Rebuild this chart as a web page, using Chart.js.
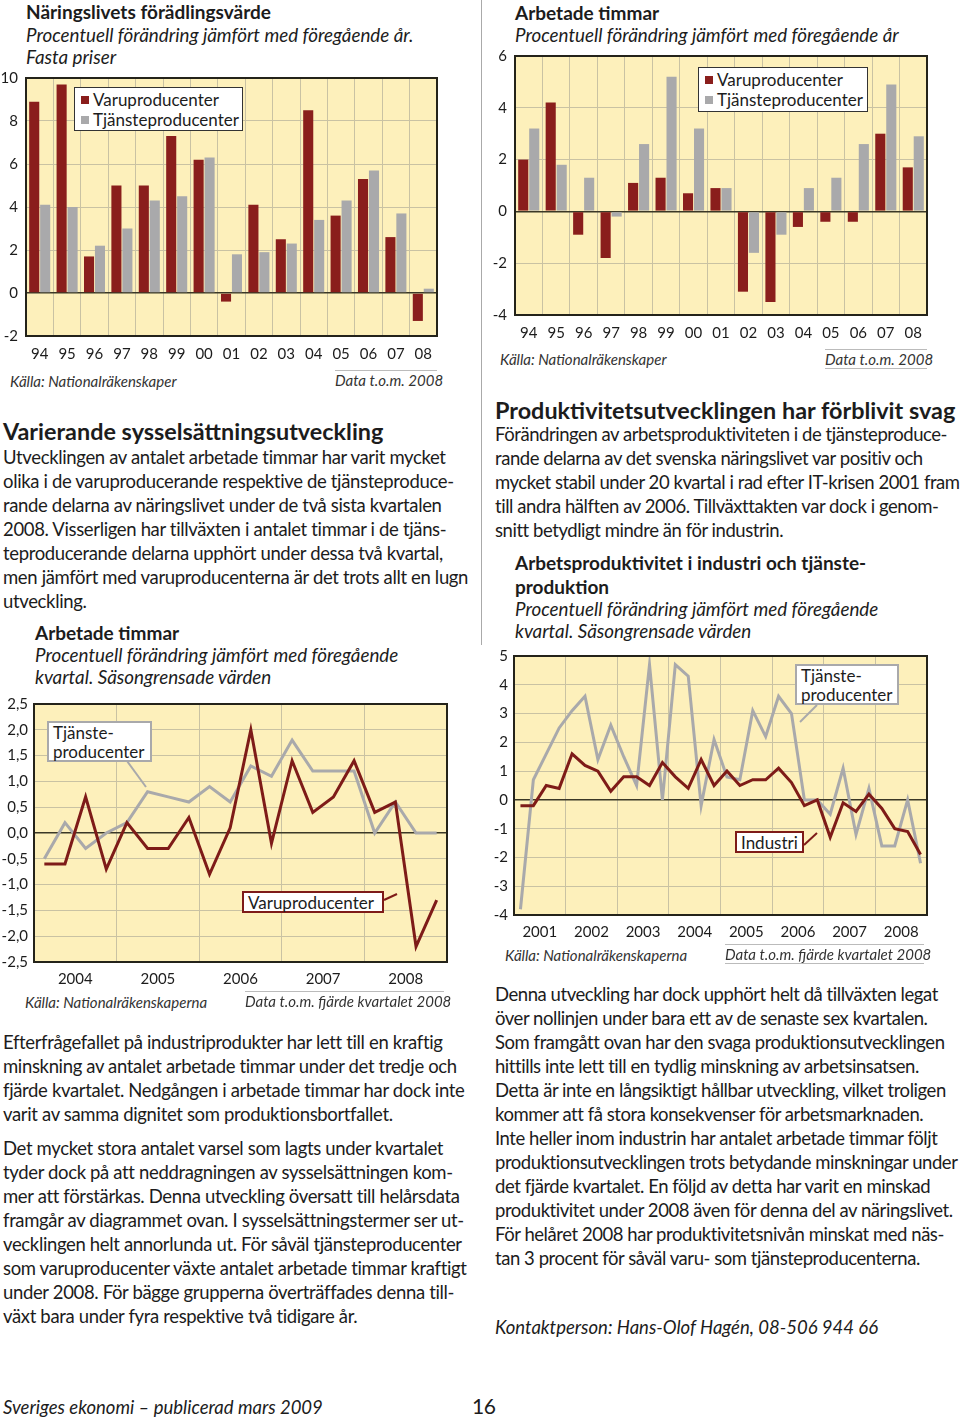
<!DOCTYPE html>
<html lang="sv">
<head>
<meta charset="utf-8">
<title>Sveriges ekonomi – publicerad mars 2009, sida 16</title>
<script src="https://cdn.jsdelivr.net/npm/chart.js@4.4.1/dist/chart.umd.min.js"></script>
<style>
  html, body { margin: 0; padding: 0; background: #fff; }
  body { width: 960px; height: 1420px; position: relative; overflow: hidden;
         font-family: Lato, "Open Sans", sans-serif; color: #1c1c1c; }
  .abs { position: absolute; white-space: nowrap; }
  .body { font-size: 18.5px; line-height: 24px; letter-spacing: -0.35px; }
  .right { letter-spacing: -0.45px; }
  .h2 { font-weight: bold; font-size: 23.4px; line-height: 26px; }
  .ctitle { font-weight: bold; font-size: 19px; line-height: 24px; }
  .csub { font-style: italic; font-size: 18.8px; line-height: 22px; }
  .src { font-style: italic; font-size: 15px; line-height: 18px; color: #333; }
  .rule { border-top: 1px solid #bbb; }
  canvas { position: absolute; }
  .legend { position: absolute; background: #fff; border: 1px solid #333; box-sizing: border-box;
            font-size: 17px; line-height: 20px; padding: 2px 0 0 6px; white-space: nowrap; }
  .sw { display: inline-block; width: 8px; height: 8px; margin-right: 4px; vertical-align: 2px; }
  .note { position: absolute; background: #fff; border: 2px solid; box-sizing: border-box;
          font-size: 17px; line-height: 19px; padding: 0 4px; white-space: nowrap; }
  .vline { position: absolute; left: 481px; top: 0; width: 1px; height: 645px; background: #aaa; }
</style>
</head>
<body>

<div class="vline"></div>

<!-- top left chart texts -->
<div class="abs ctitle" style="left:26px; top:0px;">Näringslivets förädlingsvärde</div>
<div class="abs csub" style="left:26px; top:24px;">Procentuell förändring jämfört med föregående år.<br>Fasta priser</div>
<canvas id="addedValueChart"></canvas>
<div class="legend" style="left:74px; top:87px; width:169px; height:44px;">
  <span class="sw" id="sw1a"></span>Varuproducenter<br><span class="sw" id="sw1b"></span>Tjänsteproducenter
</div>
<div class="abs src" style="left:10px; top:372px;">Källa: Nationalräkenskaper</div>
<div class="abs src rule" style="left:335px; top:370px; width:102px; text-align:right;">Data t.o.m. 2008</div>

<!-- top right chart texts -->
<div class="abs ctitle" style="left:515px; top:1px;">Arbetade timmar</div>
<div class="abs csub" style="left:515px; top:24px;">Procentuell förändring jämfört med föregående år</div>
<canvas id="hoursChart"></canvas>
<div class="legend" style="left:698px; top:67px; width:170px; height:45px;">
  <span class="sw" id="sw2a"></span>Varuproducenter<br><span class="sw" id="sw2b"></span>Tjänsteproducenter
</div>
<div class="abs src" style="left:500px; top:350px;">Källa: Nationalräkenskaper</div>
<div class="abs src rule" style="left:825px; top:349px; width:102px; text-align:right; border-bottom:1px solid #bbb;">Data t.o.m. 2008</div>

<!-- left column text -->
<div class="abs h2" style="left:3px; top:418px;">Varierande sysselsättningsutveckling</div>
<div class="abs body" style="left:3px; top:445px;">Utvecklingen av antalet arbetade timmar har varit mycket<br>olika i de varuproducerande respektive de tjänsteproduce-<br>rande delarna av näringslivet under de två sista kvartalen<br>2008. Visserligen har tillväxten i antalet timmar i de tjäns-<br>teproducerande delarna upphört under dessa två kvartal,<br>men jämfört med varuproducenterna är det trots allt en lugn<br>utveckling.</div>

<div class="abs ctitle" style="left:35px; top:621px;">Arbetade timmar</div>
<div class="abs csub" style="left:35px; top:644px;">Procentuell förändring jämfört med föregående<br>kvartal. Säsongrensade värden</div>
<canvas id="quarterHoursChart"></canvas>
<div class="abs src" style="left:25px; top:993px;">Källa: Nationalräkenskaperna</div>
<div class="abs src rule" style="left:245px; top:991px; width:199px; text-align:right;">Data t.o.m. fjärde kvartalet 2008</div>

<div class="abs body" style="left:3px; top:1030px;">Efterfrågefallet på industriprodukter har lett till en kraftig<br>minskning av antalet arbetade timmar under det tredje och<br>fjärde kvartalet. Nedgången i arbetade timmar har dock inte<br>varit av samma dignitet som produktionsbortfallet.</div>
<div class="abs body" style="left:3px; top:1136px;">Det mycket stora antalet varsel som lagts under kvartalet<br>tyder dock på att neddragningen av sysselsättningen kom-<br>mer att förstärkas. Denna utveckling översatt till helårsdata<br>framgår av diagrammet ovan. I sysselsättningstermer ser ut-<br>vecklingen helt annorlunda ut. För såväl tjänsteproducenter<br>som varuproducenter växte antalet arbetade timmar kraftigt<br>under 2008. För bägge grupperna överträffades denna till-<br>växt bara under fyra respektive två tidigare år.</div>

<!-- right column text -->
<div class="abs h2" style="left:495px; top:397px;">Produktivitetsutvecklingen har förblivit svag</div>
<div class="abs body right" style="left:495px; top:422px;">Förändringen av arbetsproduktiviteten i de tjänsteproduce-<br>rande delarna av det svenska näringslivet var positiv och<br>mycket stabil under 20 kvartal i rad efter IT-krisen 2001 fram<br>till andra hälften av 2006. Tillväxttakten var dock i genom-<br>snitt betydligt mindre än för industrin.</div>

<div class="abs ctitle" style="left:515px; top:551px;">Arbetsproduktivitet i industri och tjänste-<br>produktion</div>
<div class="abs csub" style="left:515px; top:598px;">Procentuell förändring jämfört med föregående<br>kvartal. Säsongrensade värden</div>
<canvas id="productivityChart"></canvas>
<div class="abs src" style="left:505px; top:946px;">Källa: Nationalräkenskaperna</div>
<div class="abs src rule" style="left:725px; top:944px; width:199px; text-align:right; border-bottom:1px solid #bbb;">Data t.o.m. fjärde kvartalet 2008</div>

<div class="abs body right" style="left:495px; top:982px;">Denna utveckling har dock upphört helt då tillväxten legat<br>över nollinjen under bara ett av de senaste sex kvartalen.<br>Som framgått ovan har den svaga produktionsutvecklingen<br>hittills inte lett till en tydlig minskning av arbetsinsatsen.<br>Detta är inte en långsiktigt hållbar utveckling, vilket troligen<br>kommer att få stora konsekvenser för arbetsmarknaden.<br>Inte heller inom industrin har antalet arbetade timmar följt<br>produktionsutvecklingen trots betydande minskningar under<br>det fjärde kvartalet. En följd av detta har varit en minskad<br>produktivitet under 2008 även för denna del av näringslivet.<br>För helåret 2008 har produktivitetsnivån minskat med näs-<br>tan 3 procent för såväl varu- som tjänsteproducenterna.</div>
<div class="abs body" style="left:495px; top:1315px; font-style:italic; letter-spacing:0;">Kontaktperson: Hans-Olof Hagén, 08-506 944 66</div>

<!-- footer -->
<div class="abs body" style="left:3px; top:1395px; font-style:italic; letter-spacing:0;">Sveriges ekonomi – publicerad mars 2009</div>
<div class="abs body" style="left:472px; top:1394px; font-size:21px;">16</div>

<!-- line chart annotations -->
<div class="note" id="n3s" style="left:47px; top:721px; width:105px; height:41px;">Tjänste-<br>producenter</div>
<div class="note" id="n3g" style="left:242px; top:891px; width:142px; height:22px;">Varuproducenter</div>
<div class="note" id="n4s" style="left:795px; top:664px; width:104px; height:41px;">Tjänste-<br>producenter</div>
<div class="note" id="n4g" style="left:735px; top:831px; width:69px; height:22px;">Industri</div>
<svg width="960" height="1420" style="position:absolute; left:0; top:0; pointer-events:none;">
  <line id="p3s" x1="127" y1="761" x2="146" y2="787" stroke-width="2"/>
  <line id="p3g" x1="384" y1="900" x2="397" y2="894" stroke-width="2"/>
  <line id="p4s" x1="817" y1="705" x2="800" y2="722" stroke-width="2"/>
  <line id="p4g" x1="804" y1="845" x2="817" y2="833" stroke-width="2"/>
</svg>

<script>
// ---- data ----
const barYears = ['94', '95', '96', '97', '98', '99', '00', '01', '02', '03', '04', '05', '06', '07', '08'];

// Näringslivets förädlingsvärde, % per år
const addedValueGoods    = [8.9, 9.7, 1.7, 5.0, 5.0, 7.3, 6.2, -0.4, 4.1, 2.5, 8.5, 3.6, 5.3, 2.6, -1.3];
const addedValueServices = [4.1, 4.0, 2.2, 3.0, 4.3, 4.5, 6.3, 1.8, 1.9, 2.3, 3.4, 4.3, 5.7, 3.7, 0.2];

// Arbetade timmar, % per år
const hoursGoods    = [2.0, 4.2, -0.9, -1.8, 1.1, 1.3, 0.7, 0.9, -3.1, -3.5, -0.6, -0.4, -0.4, 3.0, 1.7];
const hoursServices = [3.2, 1.8, 1.3, -0.2, 2.6, 5.2, 3.2, 0.9, -1.6, -0.9, 0.9, 1.3, 2.6, 4.9, 2.9];

// Arbetade timmar per kvartal 2004-2008
const quarterYears = ['2004', '2005', '2006', '2007', '2008'];
const quarterHoursGoods    = [-0.6, -0.6, 0.7, -0.7, 0.2, -0.3, -0.3, 0.3, -0.8, 0.1, 2.0, -0.2,
                              1.4, 0.4, 0.7, 1.4, 0.4, 0.6, -2.2, -1.3];
const quarterHoursServices = [-0.5, 0.2, -0.3, 0.0, 0.2, 0.8, 0.7, 0.6, 0.9, 0.6, 1.3, 1.1,
                              1.8, 1.2, 1.2, 1.2, 0.0, 0.6, 0.0, 0.0];

// Arbetsproduktivitet per kvartal 2001-2008
const productivityYears = ['2001', '2002', '2003', '2004', '2005', '2006', '2007', '2008'];
const productivityIndustry = [-0.2, -0.2, 0.5, 0.4, 1.6, 1.2, 1.0, 0.3, 0.8, 0.8, 0.5, 1.3,
                              0.8, 0.4, 1.4, 0.5, 1.0, 0.5, 0.7, 0.7, 1.1, 0.6, -0.2, 0.0,
                              -1.3, -0.1, -0.4, 0.2, -0.3, -1.0, -1.1, -1.9];
const productivityServices = [-3.8, 0.7, 1.6, 2.5, 3.1, 3.6, 1.4, 2.6, 1.5, 0.5, 4.7, 0.0,
                              4.7, 4.3, -0.2, 2.1, 0.8, 0.7, 3.1, 2.2, 3.6, 3.0, 0.0, 0.0,
                              -0.5, 1.1, -1.2, 0.4, -1.6, -1.6, 0.0, -2.2];

// ---- styles ----
const RED = '#8a1e1c';
const LINE_RED = '#7e1b18';
const GREY = '#a9a9ab';
const YELLOW = '#fdf0bb';
const GRID = '#c9c2a3';
const ZERO = '#3b3826';
const FRAME = '#24231a';
const TEXT = '#1c1c1c';

Chart.defaults.font.family = 'Lato, "Open Sans", sans-serif';
Chart.defaults.font.size = 15;
Chart.defaults.color = TEXT;

['sw1a', 'sw2a'].forEach(id => document.getElementById(id).style.background = RED);
['sw1b', 'sw2b'].forEach(id => document.getElementById(id).style.background = GREY);
document.getElementById('n3s').style.borderColor = GREY;
document.getElementById('n4s').style.borderColor = GREY;
document.getElementById('n3g').style.borderColor = LINE_RED;
document.getElementById('n4g').style.borderColor = LINE_RED;
['p3s', 'p4s'].forEach(id => document.getElementById(id).setAttribute('stroke', GREY));
['p3g', 'p4g'].forEach(id => document.getElementById(id).setAttribute('stroke', LINE_RED));

// yellow plot background and the dark frame round it
const framePlugin = {
    id: 'frame',
    beforeDraw(chart) {
        const { ctx, chartArea: a } = chart;
        ctx.save();
        ctx.fillStyle = YELLOW;
        ctx.fillRect(a.left, a.top, a.width, a.height);
        ctx.restore();
    },
    afterDraw(chart) {
        const { ctx, chartArea: a } = chart;
        ctx.save();
        ctx.strokeStyle = FRAME;
        ctx.lineWidth = 2;
        ctx.strokeRect(a.left, a.top, a.width, a.height);
        ctx.restore();
    }
};

const zeroColor = ctx => (ctx.tick && ctx.tick.value === 0 ? ZERO : GRID);
const zeroWidth = ctx => (ctx.tick && ctx.tick.value === 0 ? 1.6 : 1);

// build the chart, then resize / move the canvas so the plot area lands on the page rectangle
function makeChart(id, plot, yWidth, xHeight, config) {
    const c = document.getElementById(id);
    const w = plot.r - plot.l + yWidth + 12;
    const h = plot.b - plot.t + 12 + xHeight;
    c.width = w; c.height = h;
    c.style.width = w + 'px'; c.style.height = h + 'px';
    config.options.responsive = false;
    config.options.maintainAspectRatio = false;
    config.options.animation = false;
    config.options.layout = { padding: { top: 0, right: 12, left: 0, bottom: 0 } };
    config.options.plugins = { legend: { display: false }, tooltip: { enabled: false } };
    config.options.scales.x.afterFit = s => { s.height = xHeight; };
    config.options.scales.y.afterFit = s => { s.width = yWidth; };
    config.plugins = [framePlugin];
    const chart = new Chart(c, config);

    const a = chart.chartArea;
    const w2 = w + (plot.r - plot.l) - (a.right - a.left);
    const h2 = h + (plot.b - plot.t) - (a.bottom - a.top);
    chart.resize(w2, h2);
    const b = chart.chartArea;
    c.style.left = (plot.l - b.left) + 'px';
    c.style.top = (plot.t - b.top) + 'px';
    return chart;
}

function barConfig(goods, services, min, max, step) {
    return {
        type: 'bar',
        data: {
            labels: barYears,
            datasets: [
                { label: 'Varuproducenter', data: goods, backgroundColor: RED,
                  categoryPercentage: 0.8, barPercentage: 0.92 },
                { label: 'Tjänsteproducenter', data: services, backgroundColor: GREY,
                  categoryPercentage: 0.8, barPercentage: 0.92 }
            ]
        },
        options: {
            scales: {
                x: {
                    grid: { color: GRID, drawTicks: false, offset: true },
                    border: { display: false },
                    ticks: { padding: 9, maxRotation: 0, autoSkip: false }
                },
                y: {
                    min: min, max: max,
                    grid: { color: zeroColor, lineWidth: zeroWidth, drawTicks: false },
                    border: { display: false },
                    ticks: { stepSize: step, padding: 8 }
                }
            }
        }
    };
}

function lineConfig(years, goods, services, min, max, step, fmt) {
    const n = goods.length;
    const pts = arr => arr.map((v, i) => ({ x: i + 0.5, y: v }));
    return {
        type: 'line',
        data: {
            datasets: [
                { label: 'Varuproducenter', data: pts(goods), borderColor: LINE_RED,
                  borderWidth: 3, pointRadius: 0, tension: 0 },
                { label: 'Tjänsteproducenter', data: pts(services), borderColor: GREY,
                  borderWidth: 3, pointRadius: 0, tension: 0 }
            ]
        },
        options: {
            scales: {
                x: {
                    type: 'linear', min: 0, max: n,
                    grid: { color: ctx => (ctx.tick.value % 4 === 0 ? GRID : 'rgba(0,0,0,0)'), drawTicks: false },
                    border: { display: false },
                    ticks: {
                        stepSize: 2, autoSkip: false, maxRotation: 0, padding: 8,
                        callback: v => (v % 4 === 2 ? years[(v - 2) / 4] : '')
                    }
                },
                y: {
                    min: min, max: max,
                    grid: { color: zeroColor, lineWidth: zeroWidth, drawTicks: false },
                    border: { display: false },
                    ticks: { stepSize: step, padding: 6, callback: fmt }
                }
            }
        }
    };
}

makeChart('addedValueChart', { l: 26, t: 78, r: 437, b: 336 }, 26, 34,
    barConfig(addedValueGoods, addedValueServices, -2, 10, 2));

makeChart('hoursChart', { l: 515, t: 56, r: 927, b: 315 }, 26, 34,
    barConfig(hoursGoods, hoursServices, -4, 6, 2));

makeChart('quarterHoursChart', { l: 34, t: 704, r: 447, b: 962 }, 34, 30,
    lineConfig(quarterYears, quarterHoursGoods, quarterHoursServices, -2.5, 2.5, 0.5,
        v => v.toFixed(1).replace('.', ',')));

makeChart('productivityChart', { l: 514, t: 656, r: 927, b: 915 }, 26, 30,
    lineConfig(productivityYears, productivityIndustry, productivityServices, -4, 5, 1,
        v => String(v)));
</script>
</body>
</html>
